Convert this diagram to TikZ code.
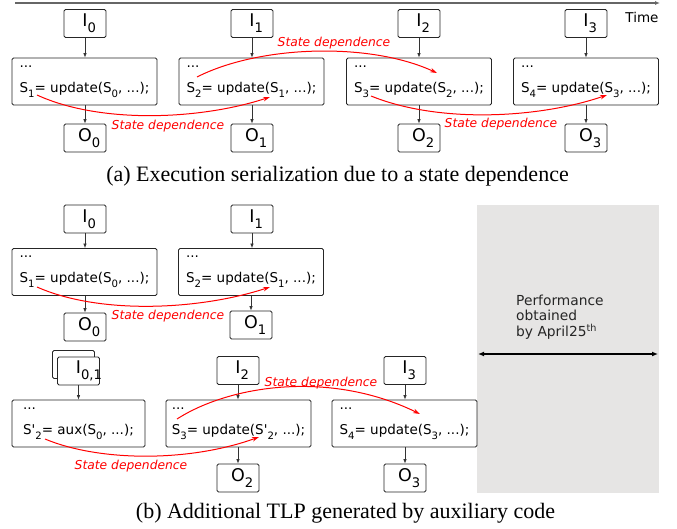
\documentclass[tikz,border=0pt]{standalone}
\usepackage{fontspec}
\setmainfont{Liberation Serif}
\newfontfamily\boxfont{DejaVu Sans}
\usepackage{tikz}
\usetikzlibrary{calc}
\usetikzlibrary{arrows.meta}
\definecolor{greybg}{RGB}{230,229,228}
\newcommand{\lo}[1]{\raisebox{-0.35em}{\scalebox{0.75}{#1}}}
\newcommand{\io}[2]{#1\rlap{\lo{#2}}}
\newcommand{\inbox}[4]{\node[iobox] (#1) at ( #2 , #3 ) {\io{I}{#4}};}
\newcommand{\outbox}[4]{\node[iobox] (#1) at ( #2 , #3 ) {\io{O}{#4}};}
\newcommand{\codebox}[4]{\node[codebox] (#1) at ( #2 , #3 ) {...\\[9pt]#4};}
\newcommand{\deplabel}[3]{\node[deplabel] (#1) at ( #2 , #3 ) {State dependence};}
\tikzset{
  iobox/.style={draw=black!85, line width=0.8pt, fill=white, rounded corners=1.5pt, minimum width=42pt, minimum height=28pt, inner sep=0pt, font=\boxfont\fontsize{17.5}{17}\selectfont},
  codebox/.style={draw=black!85, line width=0.8pt, rounded corners=1.5pt, minimum width=145pt, minimum height=47pt, inner sep=0pt, align=left, font=\boxfont\fontsize{13.5}{16}\selectfont},
  flow/.style={draw=black!80, line width=0.7pt, -{Latex[length=4.5pt,width=3.5pt]}},
  dep/.style={draw=red, line width=1pt, -{Stealth[length=7pt,width=4.5pt]}},
  deplabel/.style={text=red, inner sep=0pt, font=\boxfont\itshape\fontsize{12.3}{14}\selectfont},
  caption/.style={inner sep=0pt, font=\fontsize{22}{24}\selectfont}
}

\begin{document}
\begin{tikzpicture}[x=1pt,y=-1pt]
\useasboundingbox (0,0) rectangle (677,529);
% time axis
\coordinate (t0) at (15,3);
\coordinate (t1) at (660,3);
\draw[black!60, line width=1.3pt, -{Latex[length=5pt,width=4pt]}] (t0) -- (t1);
\node[font=\boxfont\fontsize{13.5}{16}\selectfont, inner sep=0pt] (time) at (642,17) {Time};
% (a) inputs
\inbox{ai0}{85}{23.5}{0}
\inbox{ai1}{252}{23.5}{1}
\inbox{ai2}{419}{23.5}{2}
\inbox{ai3}{586}{23.5}{3}
% (a) code
\codebox{ac0}{84.5}{81.5}{S\lo{1}= update(S\lo{0}, ...);}
\codebox{ac1}{251.5}{81.5}{S\lo{2}= update(S\lo{1}, ...);}
\codebox{ac2}{419}{81.5}{S\lo{3}= update(S\lo{2}, ...);}
\codebox{ac3}{586}{81.5}{S\lo{4}= update(S\lo{3}, ...);}
% (a) outputs
\outbox{ao0}{85}{138}{0}
\outbox{ao1}{252}{138}{1}
\outbox{ao2}{419}{138}{2}
\outbox{ao3}{586}{138}{3}
\foreach \k in {0,1,2,3} {
  \draw[flow] (ai\k) -- (ai\k |- ac\k.north);
  \draw[flow] (ac\k.south -| ao\k) -- (ao\k);
}
% (a) state dependences
\coordinate (as0) at (37,95);
\coordinate (ae1) at (270,97);
\coordinate (as1) at (197,77);
\coordinate (ae2) at (437,73);
\coordinate (as2) at (371,96);
\coordinate (ae3) at (607,95);
\draw[dep] (as0) .. controls (100,124) and (200,120) .. (ae1);
\draw[dep] (as1) .. controls (260,45) and (370,42) .. (ae2);
\draw[dep] (as2) .. controls (440,124) and (540,118) .. (ae3);
\deplabel{ad0}{168}{126}
\deplabel{ad1}{334}{43}
\deplabel{ad2}{501}{124}
\node[caption] (capa) at (337.5,176) {(a) Execution serialization due to a state dependence};
% (b) performance box
\fill[greybg] (477,205) rectangle (659,493);
\coordinate (p0) at (478,354);
\coordinate (p1) at (658,354);
\draw[black, line width=1.6pt, {Latex[length=6pt,width=5pt]}-{Latex[length=6pt,width=5pt]}] (p0) -- (p1);
\node[anchor=west, align=left, inner sep=0pt, font=\boxfont\fontsize{13.8}{15.5}\selectfont, text=black!85] (perf) at (516,317) {Performance\\obtained\\by April25\textsuperscript{th}};
% (b) first row
\inbox{bi0}{85}{219}{0}
\inbox{bi1}{252}{219}{1}
\codebox{bc0}{84.5}{272}{S\lo{1}= update(S\lo{0}, ...);}
\codebox{bc1}{251}{272}{S\lo{2}= update(S\lo{1}, ...);}
\outbox{bo0}{85}{327}{0}
\outbox{bo1}{251}{325}{1}
\draw[flow] (bi0) -- (bi0 |- bc0.north);
\draw[flow] (bi1) -- (bi1 |- bc1.north);
\draw[flow] (bc0.south -| bo0) -- (bo0);
\draw[flow] (bc1.south -| bo1) -- (bo1);
% (b) second row
\node[iobox, text=white] (bi01b) at (73.5,364.5) {I};
\node[iobox] (bi01) at (78.5,371) {\io{I}{0,1}};
\node[codebox, minimum width=133pt] (bca) at (78.5,423.5) {...\\[9pt]S\textquotesingle\lo{2}= aux(S\lo{0}, ...);};
\inbox{bi2}{238}{370.5}{2}
\inbox{bi3}{405}{370.5}{3}
\codebox{bc2}{238.5}{423.5}{S\lo{3}= update(S\textquotesingle\lo{2}, ...);}
\codebox{bc3}{404.5}{423.5}{S\lo{4}= update(S\lo{3}, ...);}
\outbox{bo2}{238}{478}{2}
\outbox{bo3}{405}{478}{3}
\draw[flow] (bi01) -- (bi01 |- bca.north);
\draw[flow] (bi2) -- (bi2 |- bc2.north);
\draw[flow] (bi3) -- (bi3 |- bc3.north);
\draw[flow] (bc2.south -| bo2) -- (bo2);
\draw[flow] (bc3.south -| bo3) -- (bo3);
% (b) state dependences
\coordinate (bs0) at (37,287);
\coordinate (be1) at (270,287);
\coordinate (bsa) at (45,439);
\coordinate (be2) at (259,437);
\coordinate (bs2) at (177,419);
\coordinate (be3) at (420,414);
\draw[dep] (bs0) .. controls (100,315) and (200,310) .. (be1);
\draw[dep] (bsa) .. controls (100,462) and (190,462) .. (be2);
\draw[dep] (bs2) .. controls (230,385) and (330,370) .. (be3);
\deplabel{bd0}{168}{316}
\deplabel{bd1}{131}{466}
\deplabel{bd2}{321}{383}
\node[caption] (capb) at (345.5,513) {(b) Additional TLP generated by auxiliary code};
\end{tikzpicture}
\end{document}
